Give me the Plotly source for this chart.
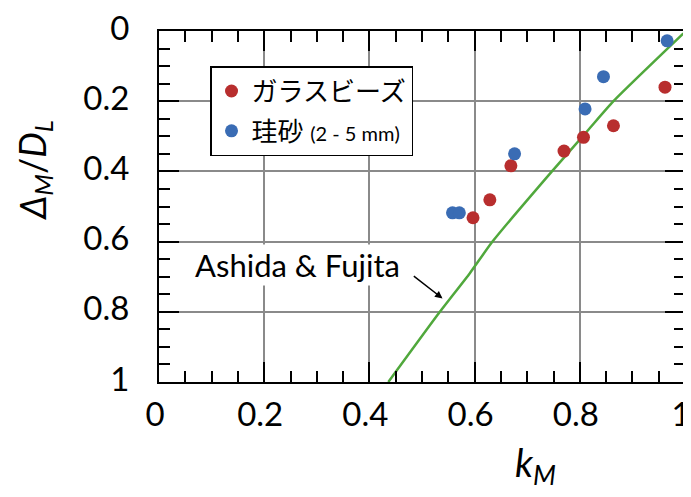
import plotly.graph_objects as go

# Data
glass_k = [0.597, 0.629, 0.669, 0.770, 0.807, 0.864, 0.962]
glass_d = [0.532, 0.481, 0.384, 0.342, 0.303, 0.270, 0.160]
sand_k = [0.558, 0.571, 0.676, 0.810, 0.845, 0.966]
sand_d = [0.518, 0.518, 0.350, 0.222, 0.130, 0.028]
af_k = [0.997, 0.864, 0.816, 0.747, 0.634, 0.591, 0.534, 0.436]
af_d = [0.007, 0.200, 0.282, 0.400, 0.600, 0.690, 0.800, 1.000]
tick_vals = [0, 0.2, 0.4, 0.6, 0.8, 1]
tick_text = ["0", "0.2", "0.4", "0.6", "0.8", "1"]

FONT = "Lato, Noto Sans CJK JP, sans-serif"

fig = go.Figure()
fig.add_trace(go.Scatter(x=af_k, y=af_d, mode="lines",
                         line=dict(color="rgb(80,168,60)", width=2.5,
                                   shape="spline", smoothing=0.5),
                         showlegend=False, hoverinfo="skip"))
fig.add_trace(go.Scatter(x=glass_k, y=glass_d, mode="markers",
                         marker=dict(color="rgb(184,46,46)", size=13),
                         name="ガラスビーズ", legendgroup="a"))
fig.add_trace(go.Scatter(x=sand_k, y=sand_d, mode="markers",
                         marker=dict(color="rgb(58,108,180)", size=13),
                         name="珪砂 <span style='font-size:20px'>(2 - 5 mm)</span>",
                         legendgroup="b"))

axis_common = dict(
    showline=True, linecolor="black", linewidth=2, mirror="allticks",
    ticks="inside", ticklen=20, tickwidth=2, tickcolor="black",
    showgrid=True, gridcolor="#8a8a8a", gridwidth=1.5,
    zeroline=False, automargin=False, ticklabeloverflow="allow",
    tickvals=tick_vals, ticktext=tick_text,
    tickfont=dict(family=FONT, size=33, color="black"),
    minor=dict(ticks="inside", ticklen=11, tickwidth=2, tickcolor="black",
               dtick=0.05, showgrid=False),
)

fig.update_xaxes(range=[0, 1], ticklabelstandoff=2, ticklabelshift=-4,
                 **axis_common)
fig.update_yaxes(range=[1, 0], ticklabelstandoff=21, ticklabelshift=3,
                 **axis_common)

fig.add_annotation(x=0.264, y=0.667, xref="x", yref="y",
                   text="Ashida &amp; Fujita", showarrow=False,
                   xanchor="center", yanchor="middle",
                   font=dict(family=FONT, size=31, color="black"),
                   bgcolor="white")
fig.add_annotation(x=0.539, y=0.762, xref="x", yref="y",
                   ax=0.4816, ay=0.695, axref="x", ayref="y",
                   text="", showarrow=True, arrowhead=2, arrowsize=1,
                   arrowwidth=1.5, arrowcolor="black")
fig.add_annotation(x=0.715, y=-0.237, xref="paper", yref="paper",
                   xanchor="center", yanchor="middle",
                   text="<i>k</i><sub><i>M</i></sub>", showarrow=False,
                   font=dict(family=FONT, size=38, color="black"))
fig.add_annotation(x=-0.236, y=0.604, xref="paper", yref="paper",
                   xanchor="center", yanchor="middle",
                   text="<i>Δ</i><sub><i>M</i></sub>/<i>D</i><sub><i>L</i></sub>",
                   textangle=-90, showarrow=False,
                   font=dict(family=FONT, size=36, color="black"))

fig.update_layout(
    width=683, height=489,
    margin=dict(l=151, r=6, t=23, b=115),
    paper_bgcolor="white", plot_bgcolor="white",
    showlegend=True,
    legend=dict(x=0.097, y=0.900, xanchor="left", yanchor="top",
                bgcolor="white", bordercolor="black", borderwidth=1.5,
                font=dict(family=FONT, size=26, color="black"),
                tracegroupgap=3, traceorder="grouped"),
)

fig.write_html("out.html")
